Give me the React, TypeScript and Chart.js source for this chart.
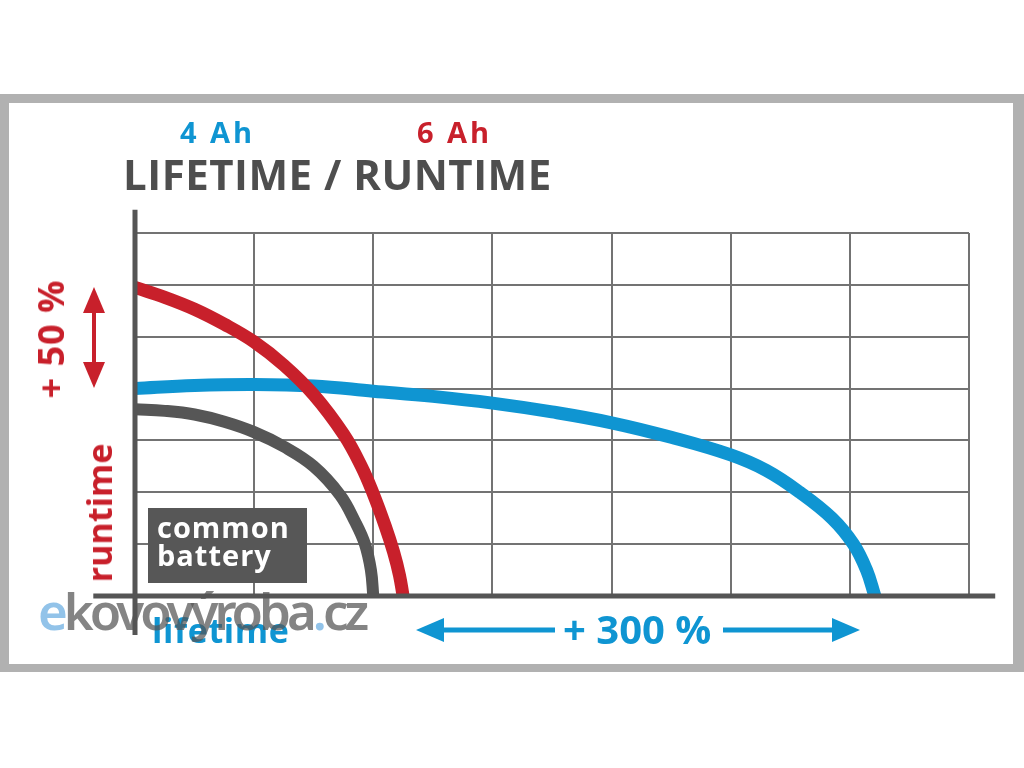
import React, { useEffect, useRef } from "react";
import { Chart, registerables } from "chart.js";

Chart.register(...registerables);

// ---- data (grid units: 7 x 7 cells) ----
const gridSteps = [0, 1, 2, 3, 4, 5, 6, 7];

const redLifetime = [0, 0.25, 0.5, 0.75, 1.0, 1.25, 1.5, 1.75, 1.9, 2.0, 2.1, 2.17, 2.22, 2.25];
const redRuntime = [5.95, 5.76, 5.53, 5.24, 4.9, 4.45, 3.88, 3.12, 2.5, 1.97, 1.35, 0.85, 0.4, 0];

const blueLifetime = [0, 0.5, 1, 1.5, 2, 2.5, 3, 3.5, 4, 4.5, 5, 5.3, 5.58, 5.85, 6.03, 6.14, 6.21];
const blueRuntime = [4.0, 4.06, 4.08, 4.05, 3.95, 3.85, 3.72, 3.55, 3.34, 3.06, 2.72, 2.42, 2.0, 1.5, 1.0, 0.5, 0];

const grayLifetime = [0, 0.25, 0.5, 0.75, 1.0, 1.25, 1.5, 1.72, 1.85, 1.93, 1.98, 2.0];
const grayRuntime = [3.6, 3.57, 3.5, 3.36, 3.16, 2.88, 2.5, 1.95, 1.42, 1.0, 0.5, 0];

const seriesNames = ["6 Ah", "4 Ah", "common battery"];
const titleText = "LIFETIME / RUNTIME";
const runtimeGain = "+ 50 %";
const lifetimeGain = "+ 300 %";
const yAxisLabel = "runtime";
const xAxisLabel = "lifetime";

const RED = "#c8202b";
const BLUE = "#0f95d2";
const GRAY = "#565656";
const FONT = "'Open Sans', 'Noto Sans', sans-serif";

function pts(xs: number[], ys: number[]) {
  return xs.map((x, i) => ({ x, y: ys[i] }));
}

function head(ctx: CanvasRenderingContext2D, tx: number, ty: number, dx: number, dy: number, len: number, half: number) {
  const bx = tx - dx * len;
  const by = ty - dy * len;
  ctx.beginPath();
  ctx.moveTo(tx, ty);
  ctx.lineTo(bx - dy * half, by + dx * half);
  ctx.lineTo(bx + dy * half, by - dx * half);
  ctx.closePath();
  ctx.fill();
}

const decorPlugin = {
  id: "decor",
  afterDatasetsDraw(chart: any) {
    const ctx: CanvasRenderingContext2D = chart.ctx;
    const xs = chart.scales.x;
    const ys = chart.scales.y;
    const x0 = xs.getPixelForValue(0);
    const y0 = ys.getPixelForValue(0);
    ctx.save();
    // axes
    ctx.strokeStyle = "#555555";
    ctx.lineWidth = 5;
    ctx.lineCap = "butt";
    ctx.beginPath();
    ctx.moveTo(x0, ys.getPixelForValue(7.45));
    ctx.lineTo(x0, ys.getPixelForValue(-0.75));
    ctx.stroke();
    ctx.beginPath();
    ctx.moveTo(xs.getPixelForValue(-0.35), y0);
    ctx.lineTo(xs.getPixelForValue(7.22), y0);
    ctx.stroke();

    // red double arrow (runtime +50 %)
    ctx.fillStyle = RED;
    ctx.strokeStyle = RED;
    ctx.lineWidth = 4;
    ctx.beginPath();
    ctx.moveTo(94, 305);
    ctx.lineTo(94, 372);
    ctx.stroke();
    head(ctx, 94, 287, 0, -1, 26, 11);
    head(ctx, 94, 388, 0, 1, 26, 11);

    // blue arrows (lifetime +300 %)
    ctx.fillStyle = BLUE;
    ctx.strokeStyle = BLUE;
    ctx.lineWidth = 5;
    ctx.beginPath();
    ctx.moveTo(436, 630);
    ctx.lineTo(555, 630);
    ctx.stroke();
    ctx.beginPath();
    ctx.moveTo(723, 630);
    ctx.lineTo(840, 630);
    ctx.stroke();
    head(ctx, 416, 630, -1, 0, 28, 12);
    head(ctx, 860, 630, 1, 0, 28, 12);
    ctx.restore();
  },
};

type TxtProps = {
  left: number;
  baseline: number;
  size: number;
  color: string;
  children: React.ReactNode;
  weight?: number;
  spacing?: number;
  wordSpacing?: number;
  family?: string;
};

function Txt({ left, baseline, size, color, children, weight = 700, spacing = 0, wordSpacing = 0, family = FONT }: TxtProps) {
  return (
    <div
      style={{
        position: "absolute",
        left,
        top: baseline - 0.888 * size,
        fontFamily: family,
        fontSize: size,
        fontWeight: weight,
        lineHeight: 1,
        color,
        letterSpacing: spacing,
        wordSpacing,
        whiteSpace: "pre",
      }}
    >
      {children}
    </div>
  );
}

function RotTxt({ cx, cy, size, color, children, spacing = 0, wordSpacing = 0 }: any) {
  return (
    <div
      style={{
        position: "absolute",
        left: cx,
        top: cy,
        transform: "translate(-50%, -50%) rotate(-90deg)",
        fontFamily: FONT,
        fontSize: size,
        fontWeight: 700,
        lineHeight: 1,
        color,
        letterSpacing: spacing,
        wordSpacing,
        whiteSpace: "pre",
      }}
    >
      {children}
    </div>
  );
}

export default function App() {
  const canvasRef = useRef<HTMLCanvasElement | null>(null);

  useEffect(() => {
    if (!canvasRef.current) return;
    const lineCommon = {
      pointRadius: 0,
      tension: 0.4,
      fill: false,
      borderCapStyle: "butt" as const,
      borderJoinStyle: "round" as const,
    };
    const chart = new Chart(canvasRef.current, {
      type: "line",
      data: {
        datasets: [
          { label: seriesNames[0], data: pts(redLifetime, redRuntime), borderColor: RED, borderWidth: 13, ...lineCommon },
          { label: seriesNames[1], data: pts(blueLifetime, blueRuntime), borderColor: BLUE, borderWidth: 13, ...lineCommon },
          { label: seriesNames[2], data: pts(grayLifetime, grayRuntime), borderColor: GRAY, borderWidth: 12, ...lineCommon },
        ],
      },
      options: {
        responsive: false,
        animation: false,
        devicePixelRatio: 1,
        layout: { padding: { left: 135, top: 233, right: 55, bottom: 172 } },
        plugins: {
          legend: { display: false },
          tooltip: { enabled: false },
          title: { display: false },
        },
        scales: {
          x: {
            type: "linear",
            min: gridSteps[0],
            max: gridSteps[gridSteps.length - 1],
            ticks: { display: false, stepSize: 1 },
            grid: { color: "#737373", lineWidth: 2, drawTicks: false },
            border: { display: false },
          },
          y: {
            type: "linear",
            min: gridSteps[0],
            max: gridSteps[gridSteps.length - 1],
            ticks: { display: false, stepSize: 1 },
            grid: { color: "#737373", lineWidth: 2, drawTicks: false },
            border: { display: false },
          },
        },
      },
      plugins: [decorPlugin],
    });
    return () => chart.destroy();
  }, []);

  return (
    <div style={{ position: "absolute", left: 0, top: 0, width: 1024, height: 768, background: "#ffffff", overflow: "hidden" }}>
      <div
        style={{
          position: "absolute",
          left: 0,
          top: 94,
          width: 1024,
          height: 578,
          boxSizing: "border-box",
          borderStyle: "solid",
          borderColor: "#b1b1b1",
          borderWidth: "9px 11px 8px 9px",
        }}
      />
      <canvas ref={canvasRef} width={1024} height={768} style={{ position: "absolute", left: 0, top: 0, width: 1024, height: 768 }} />

      <Txt left={180} baseline={143} size={29} color={BLUE} spacing={3}>{seriesNames[1]}</Txt>
      <Txt left={417} baseline={143} size={29} color={RED} spacing={3}>{seriesNames[0]}</Txt>
      <Txt left={123} baseline={190} size={42} color="#4e4e4e" spacing={0.5}>{titleText}</Txt>

      <RotTxt cx={51} cy={339} size={36} color={RED} spacing={1}>{runtimeGain}</RotTxt>
      <RotTxt cx={99} cy={513} size={34} color={RED}>{yAxisLabel}</RotTxt>

      <div
        style={{
          position: "absolute",
          left: 148,
          top: 508,
          width: 159,
          height: 75,
          background: "#575757",
          boxSizing: "border-box",
          paddingLeft: 9,
          paddingTop: 5,
          fontFamily: FONT,
          fontWeight: 700,
          fontSize: 29,
          lineHeight: "28px",
          color: "#ffffff",
          letterSpacing: 1,
        }}
      >
        common
        <br />
        battery
      </div>

      <Txt left={152} baseline={643} size={34} color={BLUE} spacing={0.6}>{xAxisLabel}</Txt>
      <Txt left={563} baseline={645} size={40} color={BLUE} wordSpacing={0}>{lifetimeGain}</Txt>

      <Txt left={38} baseline={630} size={51} color="rgba(85,85,85,0.72)" weight={600} spacing={-4} family="'Noto Sans', sans-serif">
        <span style={{ color: "rgba(110,175,225,0.75)" }}>e</span>
        kovovýroba
        <span style={{ color: "rgba(110,175,225,0.75)" }}>.</span>
        cz
      </Txt>
    </div>
  );
}
